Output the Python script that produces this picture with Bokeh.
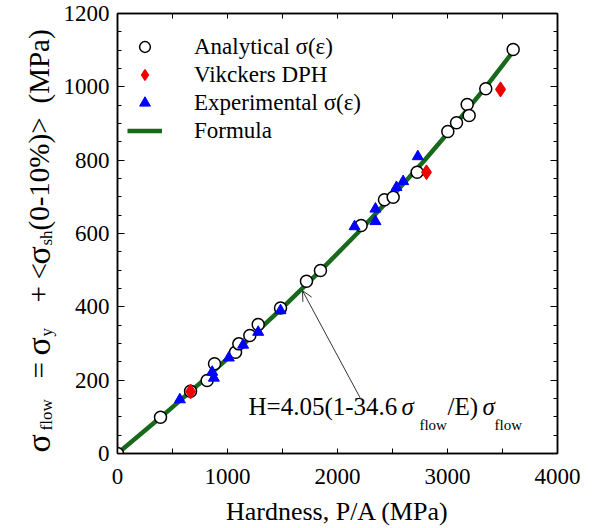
import numpy as np
from bokeh.plotting import figure
from bokeh.layouts import row
from bokeh.models import (LinearAxis, Range1d, Label, Arrow, OpenHead, Legend,
                          LegendItem, FixedTicker, CustomLabelingPolicy)
from bokeh.embed import file_html
from bokeh.resources import INLINE

# ---- data ----
analytical_x = [0, 391, 664, 815, 882, 1073, 1103, 1203, 1279, 1482, 1718, 1845,
                2215, 2427, 2506, 2724, 3003, 3082, 3179, 3197, 3348, 3597]
analytical_y = [0, 99, 170, 199, 245, 276, 299, 322, 352, 397, 470, 499,
                622, 692, 699, 767, 878, 902, 952, 922, 995, 1102]
vickers_x = [664, 2809, 3482]
vickers_y = [169, 767, 993]
experimental_x = [567, 861, 876, 1012, 1142, 1279, 1482, 2155, 2345, 2345, 2536, 2597, 2730]
experimental_y = [147, 222, 206, 261, 296, 331, 390, 619, 633, 667, 726, 742, 810]
formula_sigma = [0, 100, 200, 300, 400, 500, 600, 700, 800, 900, 1000, 1110]
formula_H = [0, 398, 782, 1152, 1508, 1850, 2178, 2492, 2792, 3077, 3349, 3632]

x_ticks = [0, 1000, 2000, 3000, 4000]
x_minor = [500, 1500, 2500, 3500]
y_ticks = [0, 200, 400, 600, 800, 1000, 1200]
y_minor = list(range(0, 1201, 50))

FONT = "Liberation Serif"
TOP, FRAME, BOTTOM = 13, 440, 75
H_TOTAL = TOP + FRAME + BOTTOM
YT_W = 60

p = figure(frame_width=FRAME, frame_height=FRAME, output_backend="svg", toolbar_location=None,
           x_range=Range1d(0, 4000), y_range=Range1d(0, 1200),
           min_border_left=117 - YT_W, min_border_right=29, min_border_top=TOP,
           min_border_bottom=BOTTOM, x_axis_location=None, y_axis_location=None)
p.xgrid.visible = False
p.ygrid.visible = False
p.outline_line_color = "black"
p.outline_line_width = 1.5
p.background_fill_color = "white"
p.border_fill_color = "white"

hide_all = CustomLabelingPolicy(code="""
const n = indices.size
for (let i = 0; i < n; i++) { indices.unset(i) }
return indices
""")

def make_axis(ticks, minor, labels, major_in, minor_in):
    ax = LinearAxis(ticker=FixedTicker(ticks=ticks, minor_ticks=minor))
    ax.axis_line_color = "black"
    ax.axis_line_width = 1.5
    ax.major_tick_in = major_in
    ax.major_tick_out = 0
    ax.minor_tick_in = minor_in
    ax.minor_tick_out = 0
    ax.major_tick_line_color = "black"
    ax.minor_tick_line_color = "black"
    if labels:
        ax.major_label_text_font = FONT
        ax.major_label_text_font_size = "23px"
        ax.major_label_text_color = "black"
    else:
        ax.major_label_policy = hide_all
        ax.major_label_standoff = 0
    return ax

xb = make_axis(x_ticks, x_minor, True, 5, 5)
xb.major_label_standoff = 15
xb.axis_label = "Hardness, P/A (MPa)"
xb.axis_label_text_font = FONT
xb.axis_label_text_font_size = "26px"
xb.axis_label_text_font_style = "normal"
xb.axis_label_text_color = "black"
xb.axis_label_standoff = 10
xt = make_axis(x_ticks, x_minor, False, 5, 5)
yl = make_axis(y_ticks, y_minor, True, 7, 4)
yl.major_label_standoff = 8
yr = make_axis(y_ticks, y_minor, False, 7, 4)
p.add_layout(xb, "below")
p.add_layout(xt, "above")
p.add_layout(yl, "left")
p.add_layout(yr, "right")

line = p.line(formula_H, formula_sigma, line_color="#17691b", line_width=4.5)
circ = p.scatter(analytical_x, analytical_y, marker="circle", size=12,
                 fill_color="white", line_color="black", line_width=1.5)
tri = p.scatter(experimental_x, experimental_y, marker="triangle", size=11,
                fill_color="#0000ff", line_color="#0000ff")
dia = p.scatter(vickers_x, vickers_y, marker="diamond", size=14.5,
                fill_color="#ee0000", line_color="#ee0000", line_width=1.2)

legend = Legend(items=[
    LegendItem(label="Analytical σ(ε)", renderers=[circ]),
    LegendItem(label="Vikckers DPH", renderers=[dia]),
    LegendItem(label="Experimental σ(ε)", renderers=[tri]),
    LegendItem(label="Formula", renderers=[line]),
], location=(10, 309))
legend.border_line_color = None
legend.background_fill_alpha = 0
legend.label_text_font = FONT
legend.label_text_font_size = "23px"
legend.label_text_color = "black"
legend.glyph_width = 35
legend.glyph_height = 27
legend.label_height = 27
legend.spacing = 1
legend.label_standoff = 32
legend.padding = 7
legend.margin = 0
p.add_layout(legend)

# formula annotation
fpieces = [("H=4.05(1-34.6", 1191, 128, "25px", "normal"),
           ("σ", 2582, 128, "25px", "italic"),
           ("flow", 2745, 79, "15px", "normal"),
           ("/E)", 3000, 128, "25px", "normal"),
           ("σ", 3318, 128, "25px", "italic"),
           ("flow", 3427, 79, "15px", "normal")]
for t, xx, yy, fs, st in fpieces:
    p.add_layout(Label(x=xx, y=yy, text=t, text_align="left", text_baseline="alphabetic",
                       text_font=FONT, text_font_size=fs, text_font_style=st,
                       text_color="black"))

p.add_layout(Arrow(end=OpenHead(size=10, line_color="#333333", line_width=1),
                   x_start=2209, y_start=150, x_end=1682, y_end=444,
                   line_color="#333333", line_width=1))

# y axis title: a narrow panel with rotated text pieces (pixel coordinates, y = 528 - page y)
yfig = figure(frame_width=YT_W, frame_height=FRAME, output_backend="svg", toolbar_location=None,
              x_range=Range1d(0, YT_W), y_range=Range1d(H_TOTAL - TOP - FRAME, H_TOTAL - TOP),
              min_border_left=0, min_border_right=0, min_border_top=TOP,
              min_border_bottom=BOTTOM, x_axis_location=None, y_axis_location=None)
yfig.xgrid.visible = False
yfig.ygrid.visible = False
yfig.outline_line_color = None
yfig.border_fill_color = "white"
main_x, sub_x = 38, 46
# (text, page y where the piece starts, kind)
ypieces = [("σ", 452, "sig"), ("flow", 430, "sub"), ("=", 378, "main"), ("σ", 355, "sig"),
           ("y", 336, "sub"), ("+", 302, "main"), ("<", 279, "main"), ("σ", 264, "sig"),
           ("sh", 245, "sub"), ("(0-10%)>", 230, "main"), ("(MPa)", 103, "main")]
sizes = {"sig": "34px", "sub": "17px", "main": "29px"}
for t, py, kind in ypieces:
    yfig.add_layout(Label(x=sub_x if kind == "sub" else main_x, y=H_TOTAL - py, text=t,
                          angle=np.pi / 2, text_align="left", text_baseline="alphabetic",
                          text_font=FONT, text_color="black",
                          text_font_size=sizes[kind]))

layout = row(yfig, p, spacing=0)
open("out.html", "w").write(file_html(layout, INLINE))
